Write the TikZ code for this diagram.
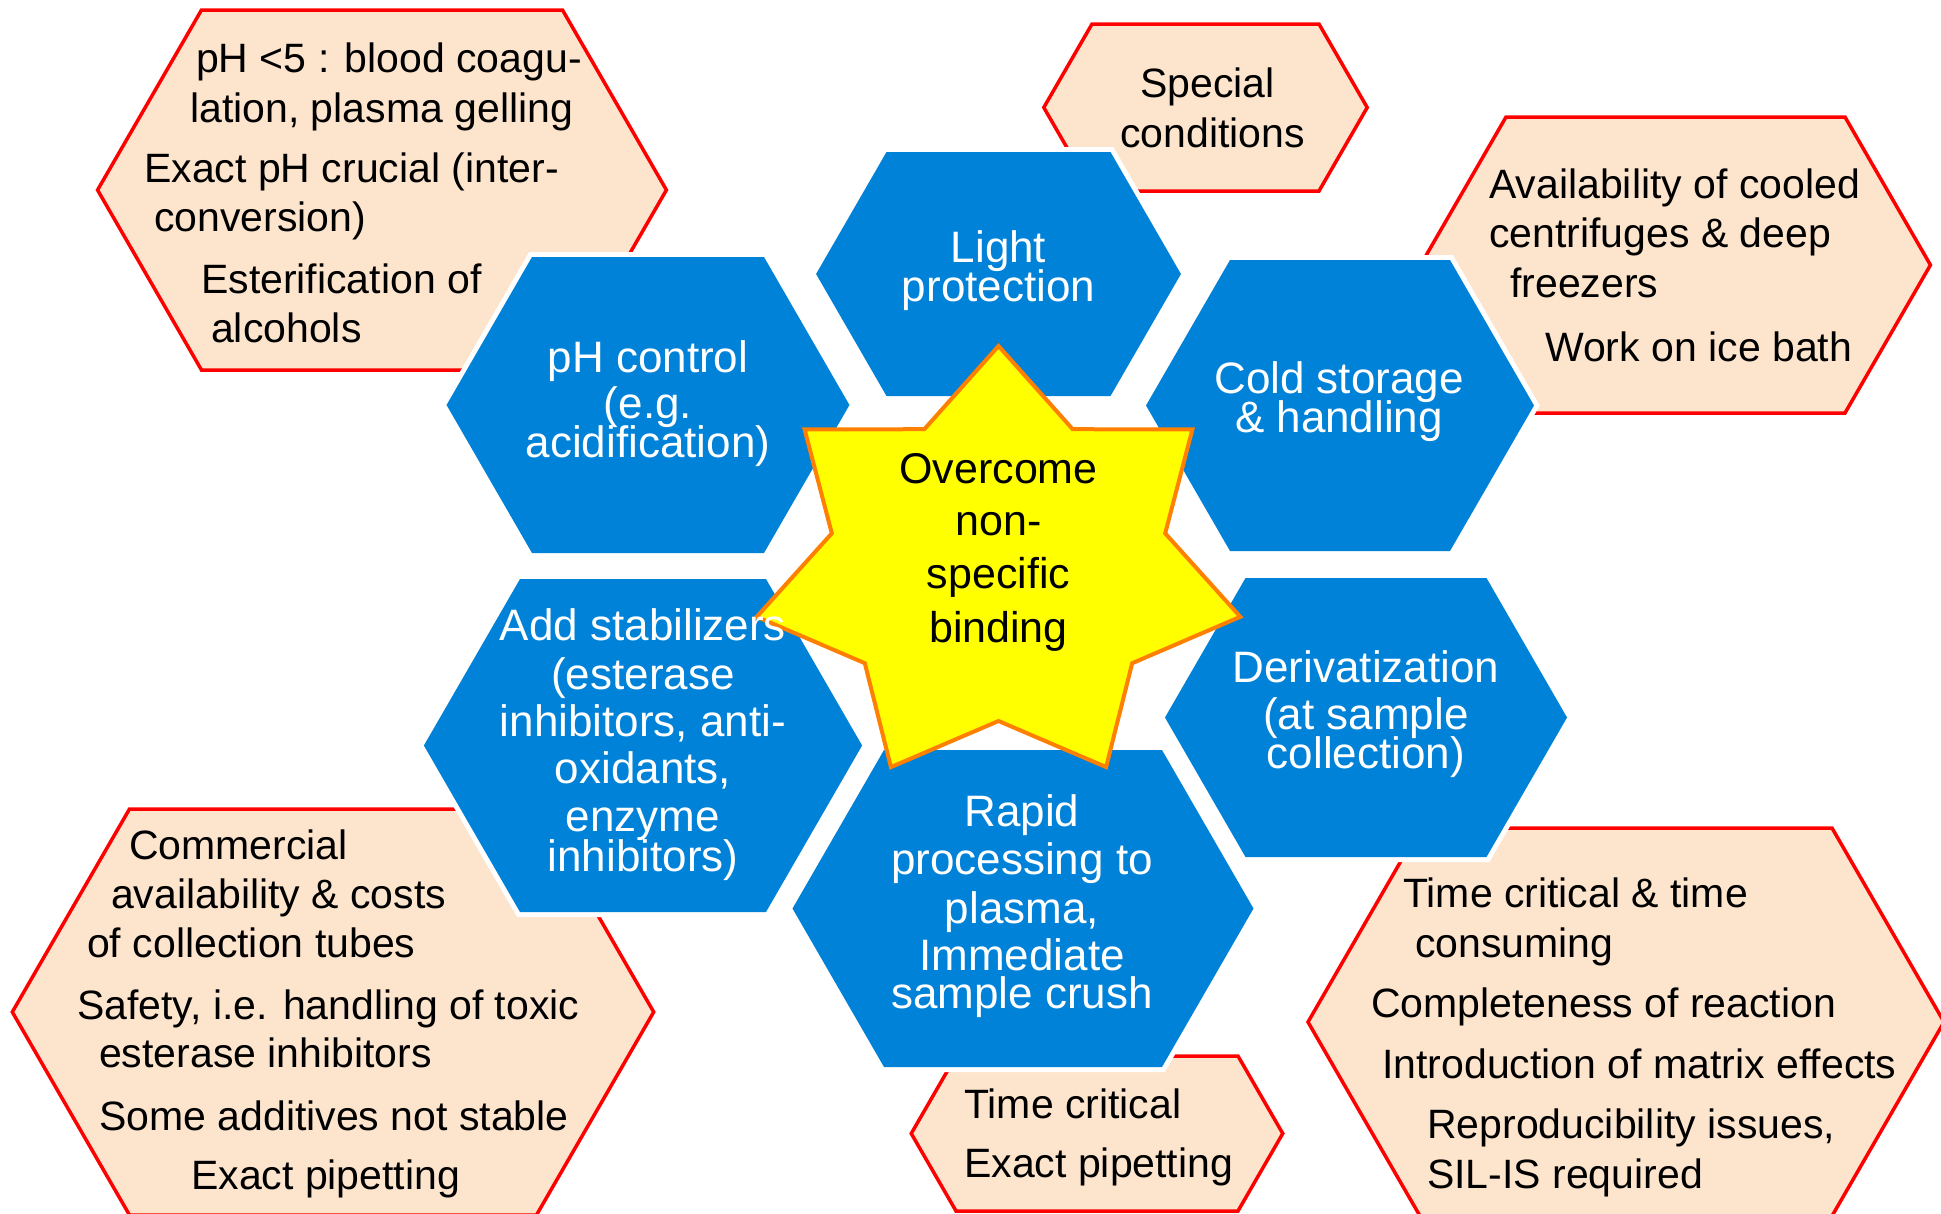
\documentclass[tikz,border=0pt]{standalone}
\usepackage{fontspec}
\setmainfont{Liberation Sans}

\definecolor{hexblue}{RGB}{0,130,216}
\definecolor{peach}{RGB}{253,228,205}
\definecolor{edgered}{RGB}{255,0,0}
\definecolor{staryellow}{RGB}{255,255,0}
\definecolor{starorange}{RGB}{255,128,0}

% Stretched hexagon with flat top and bottom and 60-degree side edges.
% #1 style, #2 centre x, #3 centre y, #4 half length of top edge, #5 half height, #6 name
\newcommand{\hexcell}[6]{%
  \path[#1] ({#2-#4-0.57735*#5},{#3}) -- ({#2-#4},{#3-#5}) -- ({#2+#4},{#3-#5})
    -- ({#2+#4+0.57735*#5},{#3}) -- ({#2+#4},{#3+#5}) -- ({#2-#4},{#3+#5}) -- cycle;
  \coordinate (#6) at (#2,#3);
}

\tikzset{
  issuehex/.style={fill=peach, draw=edgered, line width=3.5pt, line join=miter},
  methodhex/.style={fill=hexblue, preaction={draw=white, line width=10pt, line join=miter}},
  starshape/.style={fill=staryellow, draw=starorange, line width=4pt, line join=miter},
  issuetext/.style={font=\fontsize{41}{50}\selectfont, text=black, inner sep=0pt, anchor=base west},
  methodtext/.style={font=\fontsize{44}{48}\selectfont, text=white, inner sep=0pt, anchor=base},
  goaltext/.style={font=\fontsize{43}{53}\selectfont, text=black, inner sep=0pt, anchor=base},
}

\begin{document}
\begin{tikzpicture}[x=1pt, y=-1pt]
  \useasboundingbox (0,0) rectangle (1941,1213);
  \fill[white] (0,0) rectangle (1941,1213);

  % issue hexagons (behind)
  \hexcell{issuehex}{382}{190}{180.5}{180}{issPH}
  \hexcell{issuehex}{1205.5}{107.5}{113.5}{83.5}{issLight}
  \hexcell{issuehex}{1675.5}{265}{169.5}{148}{issCold}
  \hexcell{issuehex}{333}{1012}{203.5}{203}{issStab}
  \hexcell{issuehex}{1097}{1133.5}{141}{77.5}{issRapid}
  \hexcell{issuehex}{1626}{1022}{206}{194}{issDeriv}

  % method hexagons
  \hexcell{methodhex}{998.5}{274}{112}{122}{light}
  \hexcell{methodhex}{648}{405}{116}{148}{phctl}
  \hexcell{methodhex}{1340}{405.5}{110}{145.5}{cold}
  \hexcell{methodhex}{643}{745.5}{123}{166.5}{stab}
  \hexcell{methodhex}{1366}{717.5}{120.5}{139.5}{deriv}
  \hexcell{methodhex}{1023}{908.5}{139}{158.5}{rapid}

  % central seven-pointed star
  \path[starshape] (998.5,346)
    \foreach \k in {0,...,5} {
      -- ({998.5+171*cos(-64.2857+51.4286*\k)},{567.5+153.5*sin(-64.2857+51.4286*\k)})
      -- ({998.5+248*cos(-38.5714+51.4286*\k)},{567.5+221.5*sin(-38.5714+51.4286*\k)})
    }
    -- ({998.5+171*cos(244.2857)},{567.5+153.5*sin(244.2857)}) -- cycle;
  \coordinate (goal) at (998.5,567.5);

  % star text
  \node[goaltext] (g1) at (998.5,483) {Overcome};
  \node[goaltext] (g2) at (998.5,535) {non-};
  \node[goaltext] (g3) at (998.5,588) {specific};
  \node[goaltext] (g4) at (998.5,642) {binding};

  % method texts
  \node[methodtext] (l1) at (998.5,262) {Light};
  \node[methodtext] (l2) at (998.5,301) {protection};

  \node[methodtext] (p1) at (648,372) {pH control};
  \node[methodtext] (p2) at (648,418) {(e.g.};
  \node[methodtext] (p3) at (648,457) {acidification)};

  \node[methodtext] (c1) at (1339,393) {Cold storage};
  \node[methodtext] (c2) at (1339,432) {\& handling};

  \node[methodtext] (s1) at (643,640) {Add stabilizers};
  \node[methodtext] (s2) at (643,689) {(esterase};
  \node[methodtext] (s3) at (643,736) {inhibitors, anti-};
  \node[methodtext] (s4) at (643,783) {oxidants,};
  \node[methodtext] (s5) at (643,831) {enzyme};
  \node[methodtext] (s6) at (643,871) {inhibitors)};

  \node[methodtext] (d1) at (1366,682) {Derivatization};
  \node[methodtext] (d2) at (1366,729) {(at sample};
  \node[methodtext] (d3) at (1366,768) {collection)};

  \node[methodtext] (r1) at (1022,826) {Rapid};
  \node[methodtext] (r2) at (1022,874) {processing to};
  \node[methodtext] (r3) at (1022,923) {plasma,};
  \node[methodtext] (r4) at (1022,970) {Immediate};
  \node[methodtext] (r5) at (1022,1008) {sample crush};

  % issue texts
  \node[issuetext] (ip1) at (196,72) {pH <5 : blood coagu-};
  \node[issuetext] (ip2) at (190,122) {lation, plasma gelling};
  \node[issuetext] (ip3) at (144,182) {Exact pH crucial (inter-};
  \node[issuetext] (ip4) at (154,231) {conversion)};
  \node[issuetext] (ip5) at (201,293) {Esterification of};
  \node[issuetext] (ip6) at (211,342) {alcohols};

  \node[issuetext] (il1) at (1140,97) {Special};
  \node[issuetext] (il2) at (1120,147) {conditions};

  \node[issuetext] (ic1) at (1489,198) {Availability of cooled};
  \node[issuetext] (ic2) at (1489,247) {centrifuges \& deep};
  \node[issuetext] (ic3) at (1510,297) {freezers};
  \node[issuetext] (ic4) at (1545,361) {Work on ice bath};

  \node[issuetext] (is1) at (129,859) {Commercial};
  \node[issuetext] (is2) at (111,908) {availability \& costs};
  \node[issuetext] (is3) at (87,957) {of collection tubes};
  \node[issuetext] (is4) at (77,1019) {Safety, i.e. handling of toxic};
  \node[issuetext] (is5) at (99,1067) {esterase inhibitors};
  \node[issuetext] (is6) at (99,1130) {Some additives not stable};
  \node[issuetext] (is7) at (191,1189) {Exact pipetting};

  \node[issuetext] (ir1) at (964,1118) {Time critical};
  \node[issuetext] (ir2) at (964,1177) {Exact pipetting};

  \node[issuetext] (id1) at (1403,907) {Time critical \& time};
  \node[issuetext] (id2) at (1415,957) {consuming};
  \node[issuetext] (id3) at (1371,1017) {Completeness of reaction};
  \node[issuetext] (id4) at (1382,1078) {Introduction of matrix effects};
  \node[issuetext] (id5) at (1427,1138) {Reproducibility issues,};
  \node[issuetext] (id6) at (1427,1188) {SIL-IS required};
\end{tikzpicture}
\end{document}
